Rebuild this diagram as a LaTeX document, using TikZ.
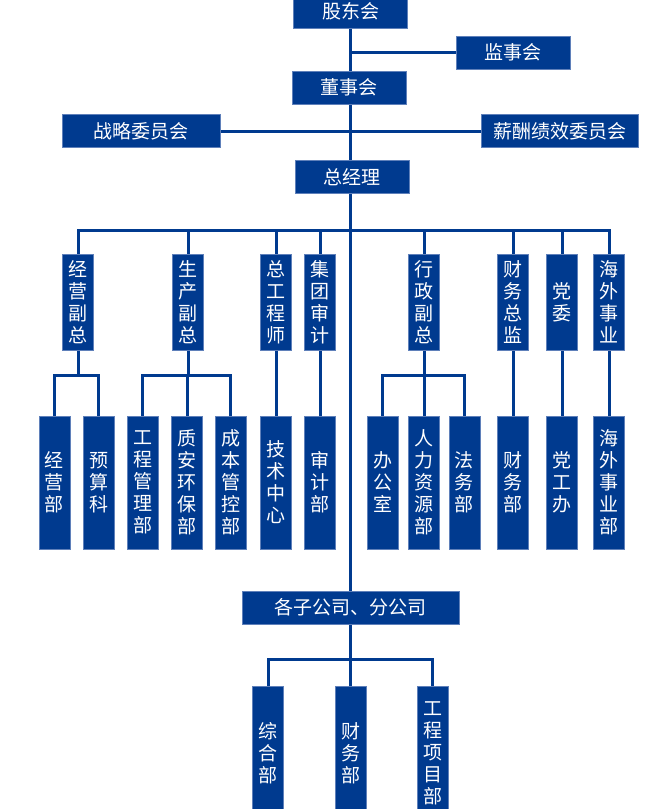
\documentclass[tikz,border=0pt]{standalone}
\usepackage{fontspec}
\newfontfamily\cjk{Noto Sans CJK SC}
\usetikzlibrary{backgrounds}
\definecolor{orgblue}{RGB}{0,58,143}
\definecolor{orgedge}{RGB}{95,128,186}

\begin{document}
\begin{tikzpicture}[x=1pt, y=-1pt,
  blk/.style={rectangle, fill=orgblue, draw=orgedge, line width=0.6pt, text=white,
    inner sep=0pt, font=\cjk\fontsize{19}{22}\selectfont},
  hb/.style={blk, minimum width=114pt, minimum height=33pt},
  vb/.style={blk, align=center, minimum width=31pt, minimum height=96pt},
  lb/.style={vb, minimum height=133pt},
  link/.style={orgblue, line width=3pt}]
  \useasboundingbox (0,0) rectangle (670,809);
  % board level
  \node[hb] (gd) at (350.5,11.5) {股东会};
  \node[hb] (js) at (513,52.5) {监事会};
  \node[hb] (ds) at (349,87.5) {董事会};
  \node[hb, minimum width=158pt] (zl) at (141,131) {战略委员会};
  \node[hb, minimum width=157pt] (xc) at (559.5,131) {薪酬绩效委员会};
  \node[hb] (zj) at (352,177) {总经理};
  % second level
  \node[vb] (jy) at (78,302) {经\\营\\副\\总};
  \node[vb] (sc) at (188,302) {生\\产\\副\\总};
  \node[vb] (zg) at (276,302) {总\\工\\程\\师};
  \node[vb] (jt) at (320,302) {集\\团\\审\\计};
  \node[vb] (xz) at (424,302) {行\\政\\副\\总};
  \node[vb] (cw) at (513,302) {财\\务\\总\\监};
  \node[vb] (dw) at (562,302) {党\\委};
  \node[vb] (hw) at (609,302) {海\\外\\事\\业};
  % departments
  \node[lb] (jyb) at (54.5,482.5) {经\\营\\部};
  \node[lb] (ysk) at (98.7,482.5) {预\\算\\科};
  \node[lb] (gcgl) at (142.8,482.5) {工\\程\\管\\理\\部};
  \node[lb] (zahb) at (187,482.5) {质\\安\\环\\保\\部};
  \node[lb] (cbgk) at (230.8,482.5) {成\\本\\管\\控\\部};
  \node[lb] (jszx) at (276,482.5) {技\\术\\中\\心};
  \node[lb] (sjb) at (320,482.5) {审\\计\\部};
  \node[lb] (bgs) at (382.5,482.5) {办\\公\\室};
  \node[lb] (rlzy) at (424,482.5) {人\\力\\资\\源\\部};
  \node[lb] (fwb) at (464.3,482.5) {法\\务\\部};
  \node[lb] (cwb) at (513,482.5) {财\\务\\部};
  \node[lb] (dgb) at (562,482.5) {党\\工\\办};
  \node[lb] (hwb) at (609,482.5) {海\\外\\事\\业\\部};
  % subsidiaries
  \node[hb, minimum width=217pt] (zgs) at (350.5,607.5) {各子公司、分公司};
  \node[lb, minimum height=134pt] (zh) at (268,753) {综\\合\\部};
  \node[lb, minimum height=134pt] (cwz) at (350.5,753) {财\\务\\部};
  \node[lb, minimum height=134pt] (gcxm) at (432.8,753) {工\\程\\项\\目\\部};
  \begin{scope}[on background layer]
    \coordinate (bus) at (350,230);
    \coordinate (jyj) at (78,375);
    \coordinate (scj) at (188,375);
    \coordinate (xzj) at (424,375);
    \coordinate (zgsj) at (350.5,659);
    \draw[link] (gd.south) -- (gd.south |- zgs.north);
    \draw[link] (gd.south |- js) -- (js.west);
    \draw[link] (zl.east) -- (xc.west);
    \draw[link] (jy.north) |- (bus) -| (hw.north);
    \foreach \n in {sc, zg, jt, xz, cw, dw}
      \draw[link] (\n.north) -- (\n.north |- bus);
    \draw[link] (jy.south) -- (jyj);
    \draw[link] (jyb.north) |- (jyj) -| (ysk.north);
    \draw[link] (sc.south) -- (scj);
    \draw[link] (gcgl.north) |- (scj) -| (cbgk.north);
    \draw[link] (zahb.north) -- (zahb.north |- scj);
    \draw[link] (zg.south) -- (jszx.north);
    \draw[link] (jt.south) -- (sjb.north);
    \draw[link] (xz.south) -- (rlzy.north);
    \draw[link] (bgs.north) |- (xzj) -| (fwb.north);
    \draw[link] (cw.south) -- (cwb.north);
    \draw[link] (dw.south) -- (dgb.north);
    \draw[link] (hw.south) -- (hwb.north);
    \draw[link] (zgs.south) -- (cwz.north);
    \draw[link] (zh.north) |- (zgsj) -| (gcxm.north);
  \end{scope}
\end{tikzpicture}
\end{document}
